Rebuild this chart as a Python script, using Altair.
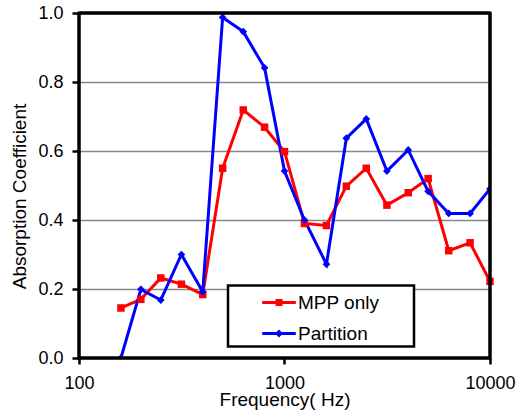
import altair as alt
import pandas as pd

# 1/3-octave band centre frequencies (Hz)
freqs = [160, 200, 250, 315, 400, 500, 630, 800, 1000, 1250, 1600,
         2000, 2500, 3150, 4000, 5000, 6300, 8000, 10000]
mpp_only = [0.145, 0.170, 0.232, 0.214, 0.184, 0.550, 0.719, 0.669, 0.598, 0.390,
            0.384, 0.498, 0.550, 0.443, 0.479, 0.520, 0.311, 0.334, 0.222]
partition = [0.000, 0.199, 0.168, 0.300, 0.192, 0.987, 0.946, 0.841, 0.542, 0.400,
             0.272, 0.637, 0.693, 0.542, 0.603, 0.483, 0.419, 0.419, 0.490]
series_names = ["MPP only", "Partition"]
series_colors = ["#FF0000", "#0000FF"]
x_domain = [100, 10000]
y_domain = [0.0, 1.0]
x_ticks = [100, 1000, 10000]
y_ticks = [0.0, 0.2, 0.4, 0.6, 0.8, 1.0]

rows = []
for f, v in zip(freqs, mpp_only):
    rows.append({"freq": f, "alpha": v, "series": series_names[0]})
for f, v in zip(freqs, partition):
    rows.append({"freq": f, "alpha": v, "series": series_names[1]})
df = pd.DataFrame(rows)

# plot-area frame spans the full axis domains
frame_df = pd.DataFrame({"freq": [x_domain[0]], "freq2": [x_domain[1]],
                         "alpha": [y_domain[0]], "alpha2": [y_domain[1]]})
edges_df = pd.DataFrame({
    "freq":   [x_domain[0], x_domain[0], x_domain[0], x_domain[1]],
    "freq2":  [x_domain[1], x_domain[1], x_domain[0], x_domain[1]],
    "alpha":  [y_domain[0], y_domain[1], y_domain[0], y_domain[0]],
    "alpha2": [y_domain[0], y_domain[1], y_domain[1], y_domain[1]],
})

FONT = "Liberation Sans"
W, H = 411, 345

# legend symbols: line segment + marker (unit coords, scaled by sqrt(size)/2)
PATH_SQ = ("M-1.2,-0.1L1.2,-0.1L1.2,0.1L-1.2,0.1Z "
           "M-0.25,-0.25L0.25,-0.25L0.25,0.25L-0.25,0.25Z")
PATH_DI = ("M-1.2,-0.1L1.2,-0.1L1.2,0.1L-1.2,0.1Z "
           "M0,-0.28L0.28,0L0,0.28L-0.28,0Z")

legend = alt.Legend(
    title=None, orient="none", legendX=149, legendY=272.5,
    padding=3, strokeColor="black", fillColor="white",
    symbolSize=784, rowPadding=7,
    symbolOffset=34, labelOffset=5,
    symbolOpacity=1, symbolStrokeWidth=0,
    labelFont=FONT, labelFontSize=19, labelColor="black",
    labelExpr="datum.label + '\u00a0\u00a0\u00a0\u00a0\u00a0\u00a0\u200b'",
)
color_scale = alt.Scale(domain=series_names, range=series_colors)
shape_scale = alt.Scale(domain=series_names, range=[PATH_SQ, PATH_DI])
x_scale = alt.Scale(type="log", domain=x_domain, nice=False)
y_scale = alt.Scale(domain=y_domain, nice=False)

x = alt.X(
    "freq:Q", scale=x_scale,
    axis=alt.Axis(values=x_ticks, format="d", title="Frequency( Hz)", grid=False,
                  domain=False, tickSize=6, tickWidth=2.5, tickColor="black",
                  labelFont=FONT, labelFontSize=18, labelColor="black", labelPadding=10,
                  labelFlush=False, labelOverlap=False,
                  titleFont=FONT, titleFontSize=19, titleFontWeight="normal",
                  titleColor="black", titleBaseline="alphabetic", titleY=47),
)
y = alt.Y(
    "alpha:Q", scale=y_scale,
    axis=alt.Axis(values=y_ticks, format=".1f", title="Absorption Coefficient",
                  grid=True, gridColor="#868686", gridWidth=1.5,
                  domain=False, tickSize=7, tickWidth=2.5, tickColor="black",
                  labelFont=FONT, labelFontSize=18, labelColor="black", labelPadding=9,
                  labelFlush=False,
                  titleFont=FONT, titleFontSize=19, titleFontWeight="normal",
                  titleColor="black", titleBaseline="alphabetic",
                  titleX=-54, titleY=183, titleAngle=270),
)

base = alt.Chart(df).encode(x=x, y=y)

# invisible layer that only drives the legend (line + marker symbols)
legend_layer = base.mark_point(filled=True, opacity=0).encode(
    color=alt.Color("series:N", scale=color_scale, legend=legend),
    shape=alt.Shape("series:N", scale=shape_scale, legend=legend),
)

line_mpp = base.transform_filter(alt.datum.series == series_names[0]).mark_line(
    strokeWidth=3, color=series_colors[0])
line_part = base.transform_filter(alt.datum.series == series_names[1]).mark_line(
    strokeWidth=3, color=series_colors[1], clip=True)
pts_mpp = base.transform_filter(alt.datum.series == series_names[0]).mark_point(
    filled=True, opacity=1, shape="square", size=56, color=series_colors[0])
pts_part = base.transform_filter(alt.datum.series == series_names[1]).mark_point(
    filled=True, opacity=1, shape="diamond", size=60, color=series_colors[1], clip=True)

frame = alt.Chart(frame_df).mark_rect(
    fill="white", fillOpacity=0, stroke="#000000", strokeWidth=3, strokeOpacity=1
).encode(
    x=alt.X("freq:Q", scale=x_scale),
    x2="freq2:Q",
    y=alt.Y("alpha:Q", scale=y_scale),
    y2="alpha2:Q",
)
edges = alt.Chart(edges_df).mark_rule(color="#000000", strokeWidth=3, opacity=1).encode(
    x=alt.X("freq:Q", scale=x_scale),
    x2="freq2:Q",
    y=alt.Y("alpha:Q", scale=y_scale),
    y2="alpha2:Q",
)

chart = (
    alt.layer(legend_layer, line_mpp, line_part, pts_mpp, pts_part, frame, edges)
    .properties(width=W, height=H,
                autosize=alt.AutoSizeParams(type="none"),
                padding={"left": 79, "top": 13, "right": 29, "bottom": 59},
                background="white")
    .configure_view(strokeWidth=0)
    .configure_legend(strokeWidth=2.5)
)

chart.save("out.html", embed_options={"renderer": "svg", "actions": False})
